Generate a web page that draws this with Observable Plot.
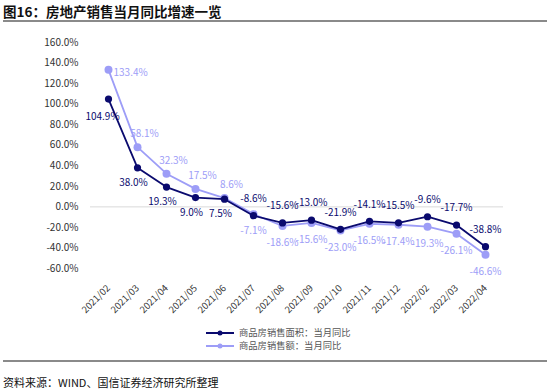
<!DOCTYPE html>
<html>
<head>
<meta charset="utf-8">
<script src="https://cdn.jsdelivr.net/npm/d3@7"></script>
<script src="https://cdn.jsdelivr.net/npm/@observablehq/plot@0.6"></script>
<style>
  html, body { margin: 0; padding: 0; background: #fff; }
  #wrap { position: relative; width: 550px; height: 391px; overflow: hidden; font-family: "Noto Sans CJK SC", "Noto Sans", sans-serif; }
  #title { position: absolute; left: 3px; top: 2px; font-size: 13.5px; font-weight: bold; color: #111; line-height: 18px; }
  #tline { position: absolute; left: 3px; top: 20px; width: 544px; height: 2px; background: #8a8a8a; }
  #chart { position: absolute; left: 0; top: 0; }
  #legend { position: absolute; left: 206px; top: 326px; font-size: 9.3px; color: #555; line-height: 13px; }
  #legend .row { display: flex; align-items: center; height: 13px; }
  #legend svg { margin-right: 5px; }
  #sline { position: absolute; left: 3px; top: 360px; width: 544px; height: 2px; background: #8a8a8a; }
  #source { position: absolute; left: 3px; top: 374px; font-size: 11px; color: #111; line-height: 16px; }
</style>
</head>
<body>
<div id="wrap">
  <div id="chart"></div>
  <div id="title"></div>
  <div id="tline"></div>
  <div id="legend"></div>
  <div id="sline"></div>
  <div id="source"></div>
</div>
<script>
const titleText = "图16：房地产销售当月同比增速一览";
const sourceText = "资料来源：WIND、国信证券经济研究所整理";
const months = ["2021/02","2021/03","2021/04","2021/05","2021/06","2021/07","2021/08","2021/09","2021/10","2021/11","2021/12","2022/02","2022/03","2022/04"];
const areaYoY = [104.9, 38.0, 19.3, 9.0, 7.5, -8.6, -15.6, -13.0, -21.9, -14.1, -15.5, -9.6, -17.7, -38.8];
const salesYoY = [133.4, 58.1, 32.3, 17.5, 8.6, -7.1, -18.6, -15.6, -23.0, -16.5, -17.4, -19.3, -26.1, -46.6];
const seriesNames = ["商品房销售面积：当月同比", "商品房销售额：当月同比"];
const seriesColors = ["#0a0a6e", "#9d9df7"];
const yTicks = [-60, -40, -20, 0, 20, 40, 60, 80, 100, 120, 140, 160];

document.getElementById("title").textContent = titleText;
document.getElementById("source").textContent = sourceText;

const area = months.map((m, i) => ({month: m, v: areaYoY[i], i}));
const sales = months.map((m, i) => ({month: m, v: salesYoY[i], i}));
const fmt = d => d.v.toFixed(1) + "%";
const fs = 10;

const chart = Plot.plot({
  width: 550,
  height: 330,
  marginTop: 42,
  marginBottom: 62,
  marginLeft: 90,
  marginRight: 47,
  style: {fontFamily: "'Noto Sans CJK SC', 'Noto Sans', sans-serif", background: "transparent"},
  x: {type: "point", domain: months, padding: 0.5, label: null},
  y: {domain: [-60, 160], label: null},
  marks: [
    Plot.ruleY([0], {stroke: "#d9d9d9", strokeWidth: 1}),
    Plot.axisY({ticks: yTicks, tickSize: 0, tickPadding: 12, tickFormat: d => d.toFixed(1) + "%", fontSize: 10, fill: "#333", label: null}),
    Plot.axisX({tickRotate: -45, tickSize: 0, tickPadding: 18, fontSize: 9.5, fill: "#333", label: null}),
    Plot.line(sales, {x: "month", y: "v", stroke: seriesColors[1], strokeWidth: 1.8}),
    Plot.dot(sales, {x: "month", y: "v", fill: seriesColors[1], r: 4}),
    Plot.line(area, {x: "month", y: "v", stroke: seriesColors[0], strokeWidth: 1.8}),
    Plot.dot(area, {x: "month", y: "v", fill: seriesColors[0], r: 3.6}),
    // dark series labels
    Plot.text(area.filter(d => d.i === 0), {x: "month", y: "v", text: fmt, fill: seriesColors[0], fontSize: fs, dx: -6, dy: 18}),
    Plot.text(area.filter(d => d.i >= 1 && d.i <= 4), {x: "month", y: "v", text: fmt, fill: seriesColors[0], fontSize: fs, dx: -4, dy: 15}),
    Plot.text(area.filter(d => d.i >= 5), {x: "month", y: "v", text: fmt, fill: seriesColors[0], fontSize: fs, dy: -17}),
    // light series labels
    Plot.text(sales.filter(d => d.i === 0), {x: "month", y: "v", text: fmt, fill: seriesColors[1], fontSize: fs, textAnchor: "start", dx: 5, dy: 3}),
    Plot.text(sales.filter(d => d.i >= 1 && d.i <= 4), {x: "month", y: "v", text: fmt, fill: seriesColors[1], fontSize: fs, dx: 7, dy: -13}),
    Plot.text(sales.filter(d => d.i >= 5), {x: "month", y: "v", text: fmt, fill: seriesColors[1], fontSize: fs, dy: 17})
  ]
});
document.getElementById("chart").appendChild(chart);

const legend = document.getElementById("legend");
seriesNames.forEach((name, k) => {
  const row = document.createElement("div");
  row.className = "row";
  row.innerHTML = `<svg width="28" height="8"><line x1="0" y1="4" x2="28" y2="4" stroke="${seriesColors[k]}" stroke-width="2"/><circle cx="14" cy="4" r="2.5" fill="${seriesColors[k]}"/></svg><span>${name}</span>`;
  legend.appendChild(row);
});
</script>
</body>
</html>
